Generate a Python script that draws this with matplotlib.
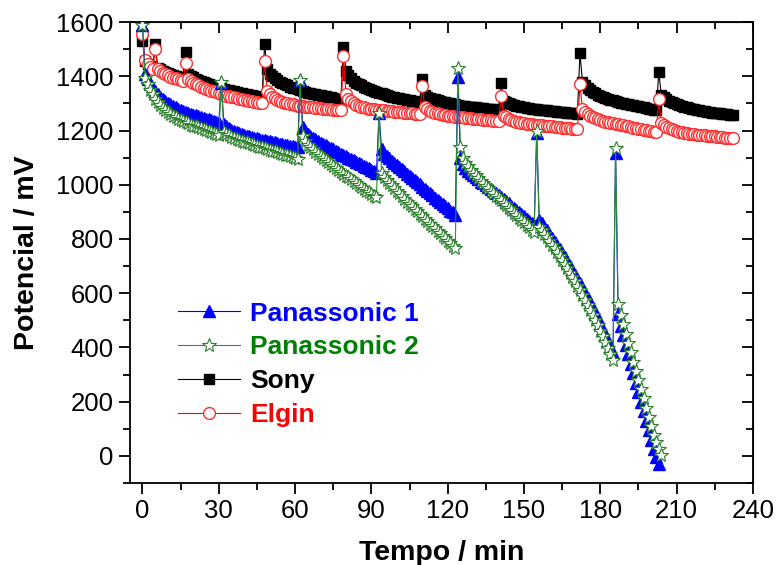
import numpy as np
import matplotlib
matplotlib.use('Agg')
from matplotlib import pyplot as plt
from matplotlib.ticker import MultipleLocator

# Potencial (mV), one point per minute starting at t = 0
pan1 = [1590,
    1410, 1390, 1372, 1358, 1345, 1334, 1324, 1316, 1309, 1302, 1296, 1291, 1286, 1281, 1277,
    1273, 1269, 1265, 1262, 1259, 1256, 1253, 1250, 1247, 1244, 1241, 1238, 1235, 1232, 1229,
    1375,
    1225, 1215, 1208, 1203, 1198, 1194, 1190, 1187, 1184, 1181, 1178, 1176, 1173, 1171, 1168,
    1166, 1164, 1162, 1160, 1158, 1156, 1154, 1152, 1150, 1148, 1146, 1144, 1142, 1140, 1138,
    1386,
    1212, 1198, 1188, 1180, 1173, 1167, 1161, 1155, 1150, 1145, 1140, 1135, 1130, 1125, 1120,
    1115, 1110, 1105, 1100, 1095, 1090, 1085, 1080, 1075, 1070, 1065, 1060, 1055, 1050, 1045,
    1265,
    1130, 1115, 1105, 1097, 1089, 1081, 1073, 1065, 1057, 1049, 1041, 1033, 1025, 1017, 1009,
    1001, 993, 985, 977, 969, 961, 953, 945, 937, 929, 921, 913, 905, 898, 890,
    1397,
    1100, 1075, 1062, 1052, 1044, 1036, 1028, 1020, 1012, 1005, 998, 991, 984, 977, 970,
    962, 955, 947, 939, 931, 923, 915, 907, 899, 891, 883, 875, 867, 859, 851,
    1190,
    870, 858, 845, 832, 818, 804, 790, 776, 762, 747, 732, 717, 701, 685, 669,
    653, 636, 619, 601, 583, 565, 546, 527, 507, 487, 466, 445, 423, 401, 378,
    1116,
    525, 480, 445, 410, 375, 340, 305, 270, 235, 200, 165, 130, 95, 60, 25, -5, -30]

pan2 = [1590,
    1395, 1370, 1350, 1333, 1318, 1305, 1294, 1284, 1275, 1267, 1260, 1254, 1248, 1243, 1238,
    1234, 1230, 1226, 1222, 1218, 1215, 1212, 1208, 1205, 1201, 1198, 1194, 1190, 1186, 1182,
    1380,
    1195, 1188, 1182, 1177, 1173, 1169, 1165, 1162, 1159, 1156, 1153, 1150, 1147, 1144, 1141,
    1138, 1135, 1132, 1129, 1126, 1123, 1120, 1117, 1114, 1111, 1108, 1105, 1102, 1099, 1096,
    1386,
    1178, 1160, 1148, 1138, 1130, 1122, 1114, 1106, 1098, 1090, 1083, 1076, 1069, 1062, 1055,
    1048, 1041, 1034, 1027, 1020, 1013, 1006, 999, 992, 985, 978, 972, 966, 960, 955,
    1265,
    1045, 1030, 1018, 1008, 998, 988, 978, 968, 958, 948, 938, 929, 920, 911, 902,
    893, 884, 875, 866, 857, 848, 839, 830, 821, 812, 803, 794, 785, 776, 767,
    1430,
    1140, 1100, 1082, 1068, 1056, 1045, 1035, 1025, 1015, 1005, 996, 987, 978, 969, 960,
    951, 942, 933, 924, 915, 906, 897, 888, 879, 870, 861, 852, 843, 835, 827,
    1200,
    845, 833, 820, 807, 793, 779, 765, 751, 737, 722, 707, 692, 676, 660, 644,
    628, 611, 594, 576, 558, 540, 521, 502, 482, 462, 441, 420, 398, 376, 355,
    1134,
    561, 520, 485, 450, 416, 382, 348, 314, 280, 246, 212, 178, 144, 110, 78, 50, 25, 5]

sony = [1530,
    1455, 1445, 1437, 1430,
    1520,
    1432, 1425, 1420, 1416, 1412, 1408, 1404, 1400, 1397, 1394, 1391,
    1488,
    1410, 1402, 1396, 1391, 1386, 1382, 1378, 1374, 1370, 1367, 1364, 1361, 1358, 1355, 1352,
    1350, 1348, 1346, 1344, 1342, 1340, 1338, 1336, 1334, 1332, 1330, 1328, 1326, 1324, 1322,
    1518,
    1425, 1410, 1400, 1392, 1386, 1380, 1375, 1370, 1366, 1362, 1358, 1355, 1352, 1349, 1346,
    1343, 1340, 1338, 1336, 1334, 1332, 1330, 1328, 1326, 1324, 1322, 1320, 1318, 1316, 1314,
    1508,
    1420, 1405, 1393, 1384, 1377, 1371, 1366, 1361, 1357, 1353, 1349, 1346, 1343, 1340, 1337,
    1334, 1331, 1328, 1325, 1323, 1321, 1319, 1317, 1315, 1313, 1311, 1309, 1307, 1305, 1303,
    1389,
    1330, 1325, 1321, 1318, 1315, 1312, 1309, 1306, 1304, 1302, 1300, 1298, 1296, 1294, 1292,
    1290, 1289, 1288, 1287, 1286, 1285, 1284, 1283, 1282, 1281, 1280, 1279, 1278, 1277, 1276,
    1375,
    1310, 1305, 1301, 1298, 1295, 1292, 1290, 1288, 1286, 1284, 1282, 1280, 1279, 1278, 1277,
    1276, 1275, 1274, 1273, 1272, 1271, 1270, 1269, 1268, 1267, 1266, 1265, 1264, 1263, 1262,
    1486,
    1380, 1368, 1358, 1350, 1343, 1337, 1332, 1328, 1324, 1320, 1317, 1314, 1311, 1308, 1305,
    1303, 1301, 1299, 1297, 1295, 1293, 1291, 1289, 1287, 1285, 1283, 1281, 1279, 1277, 1275,
    1415,
    1330, 1322, 1315, 1309, 1304, 1300, 1296, 1293, 1290, 1287, 1285, 1283, 1281, 1279, 1277,
    1275, 1273, 1271, 1269, 1267, 1266, 1265, 1264, 1263, 1262, 1261, 1260, 1259, 1258]

elgin = [1556,
    1460, 1445, 1435, 1428,
    1500,
    1425, 1418, 1412, 1407, 1403, 1399, 1395, 1392, 1389, 1386, 1383,
    1449,
    1390, 1382, 1376, 1371, 1366, 1362, 1358, 1354, 1350, 1347, 1344, 1341, 1338, 1335, 1332,
    1329, 1326, 1324, 1322, 1320, 1318, 1316, 1314, 1312, 1310, 1308, 1306, 1304, 1302, 1300,
    1456,
    1345, 1333, 1325, 1319, 1314, 1310, 1306, 1303, 1300, 1298, 1296, 1294, 1292, 1290, 1289,
    1288, 1287, 1286, 1285, 1284, 1283, 1282, 1281, 1280, 1279, 1278, 1277, 1276, 1275, 1274,
    1474,
    1335, 1318, 1308, 1300, 1295, 1291, 1288, 1285, 1283, 1281, 1279, 1278, 1277, 1276, 1275,
    1274, 1273, 1272, 1271, 1270, 1269, 1268, 1267, 1266, 1265, 1264, 1263, 1262, 1261, 1260,
    1364,
    1285, 1278, 1273, 1269, 1266, 1263, 1261, 1259, 1257, 1255, 1253, 1252, 1251, 1250, 1249,
    1248, 1247, 1246, 1245, 1244, 1243, 1242, 1241, 1240, 1239, 1238, 1237, 1236, 1235, 1234,
    1327,
    1255, 1248, 1243, 1239, 1236, 1233, 1231, 1229, 1227, 1225, 1224, 1223, 1222, 1221, 1220,
    1219, 1218, 1217, 1216, 1215, 1214, 1213, 1212, 1211, 1210, 1209, 1208, 1207, 1206, 1205,
    1371,
    1278, 1268, 1261, 1255, 1250, 1246, 1242, 1239, 1236, 1233, 1231, 1229, 1227, 1225, 1223,
    1221, 1219, 1217, 1215, 1213, 1211, 1209, 1207, 1205, 1203, 1201, 1199, 1197, 1195, 1193,
    1315,
    1228, 1220, 1214, 1209, 1205, 1202, 1199, 1196, 1194, 1192, 1190, 1188, 1187, 1186, 1185,
    1184, 1183, 1182, 1181, 1180, 1179, 1178, 1177, 1176, 1175, 1174, 1173, 1172, 1171]

# one reading per minute
t_pan1 = np.arange(len(pan1))
t_pan2 = np.arange(len(pan2))
t_sony = np.arange(len(sony))
t_elgin = np.arange(len(elgin))

plt.rcParams['font.family'] = ['Liberation Sans', 'DejaVu Sans']

fig = plt.figure(figsize=(7.77, 5.65), dpi=100)
ax = fig.add_axes([0.167, 0.145, 0.802, 0.816])

l3, = ax.plot(t_sony, sony, '-s', color='black', lw=0.8, ms=6.5, zorder=2)
l4, = ax.plot(t_elgin, elgin, '-o', color='red', lw=0.8, ms=8.5,
              mfc='white', mec='#ff3030', mew=1.0, zorder=3)
l1, = ax.plot(t_pan1, pan1, '-^', color='blue', lw=0.8, ms=8, mec='blue', zorder=4)
l2, = ax.plot(t_pan2, pan2, '-*', color='#2f8f2f', lw=0.8, ms=10.5,
              mfc='white', mec='#2a7f2a', mew=0.8, zorder=5)

ax.set_xlim(-5, 240)
ax.set_ylim(-100, 1600)
ax.xaxis.set_major_locator(MultipleLocator(30))
ax.xaxis.set_minor_locator(MultipleLocator(15))
ax.yaxis.set_major_locator(MultipleLocator(200))
ax.yaxis.set_minor_locator(MultipleLocator(100))
ax.tick_params(which='both', direction='out', width=1.3, labelsize=18.5)
ax.tick_params(which='major', length=8)
ax.tick_params(which='minor', length=5)
for s in ax.spines.values():
    s.set_linewidth(1.3)

top = ax.secondary_xaxis('top')
top.xaxis.set_major_locator(MultipleLocator(30))
top.xaxis.set_minor_locator(MultipleLocator(15))
top.tick_params(which='both', direction='in', width=1.3, labeltop=False)
top.tick_params(which='major', length=8)
top.tick_params(which='minor', length=5)
right = ax.secondary_yaxis('right')
right.yaxis.set_major_locator(MultipleLocator(200))
right.yaxis.set_minor_locator(MultipleLocator(100))
right.tick_params(which='both', direction='in', width=1.3, labelright=False)
right.tick_params(which='major', length=8)
right.tick_params(which='minor', length=5)

ax.set_xlabel('Tempo / min', fontsize=20.5, fontweight='bold', labelpad=12)
ax.set_ylabel('Potencial / mV', fontsize=20.5, fontweight='bold', labelpad=12)

leg = ax.legend([l1, l2, l3, l4], ['Panassonic 1', 'Panassonic 2', 'Sony', 'Elgin'],
                loc='upper left', bbox_to_anchor=(0.056, 0.422), frameon=False,
                prop={'size': 19, 'weight': 'bold'}, handlelength=2.35,
                handletextpad=0.38, labelspacing=0.37, borderpad=0)
for txt, c in zip(leg.get_texts(), ['blue', '#008000', 'black', 'red']):
    txt.set_color(c)

fig.savefig('out.png', dpi=100)
